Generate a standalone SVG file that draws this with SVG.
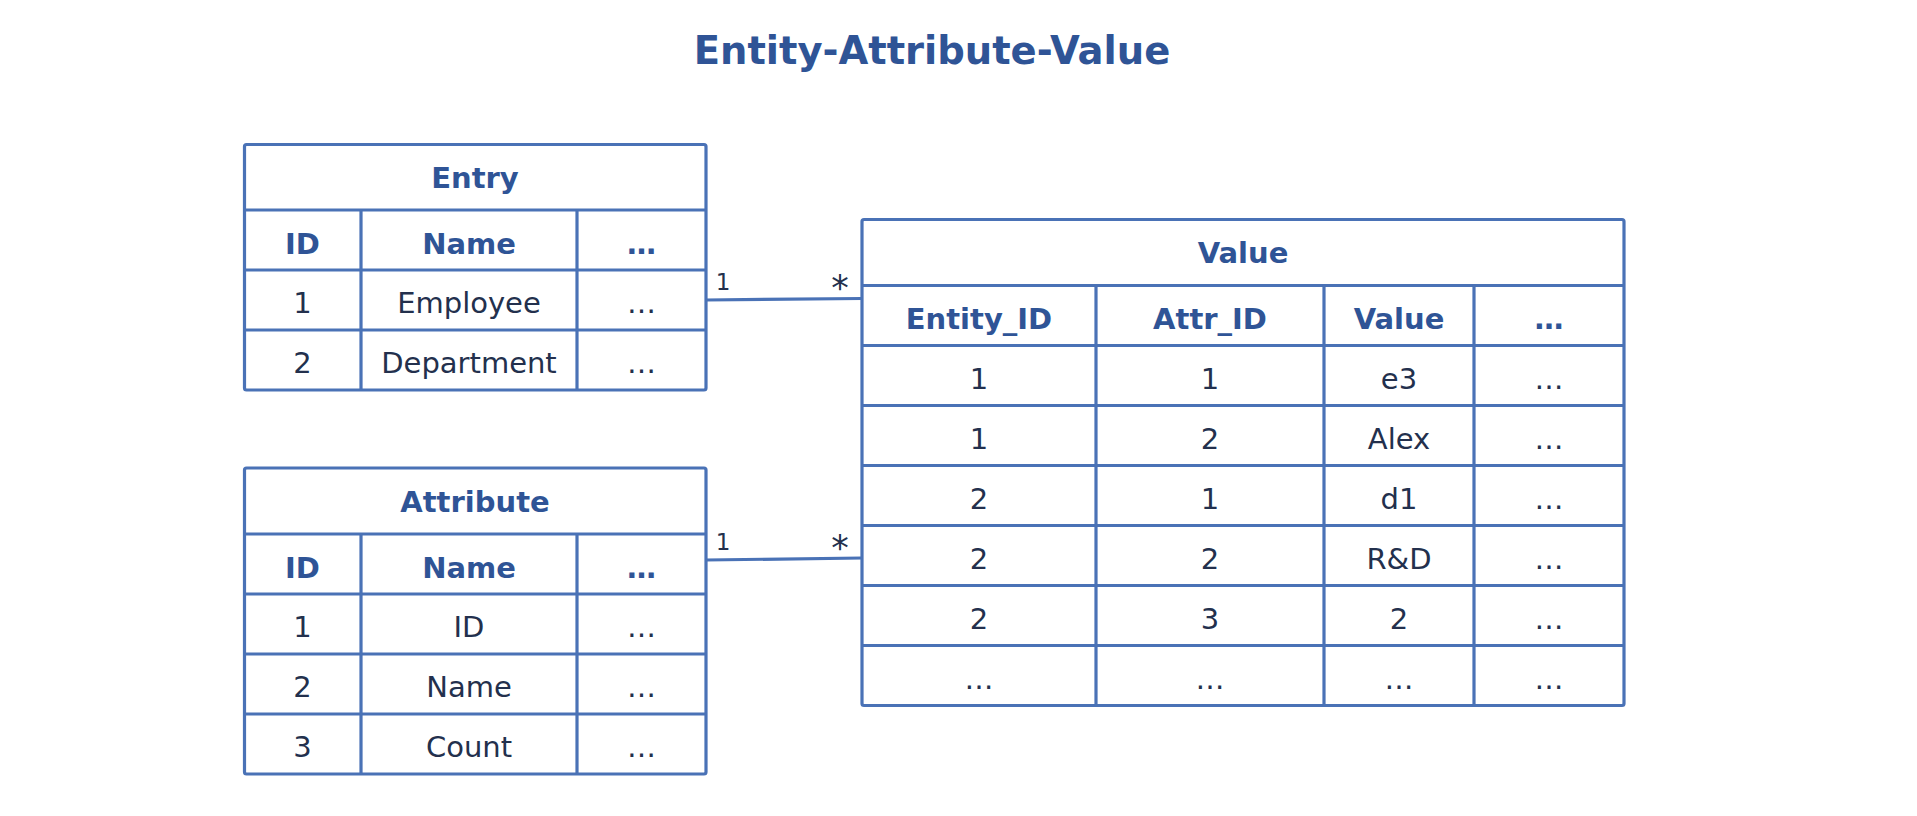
<svg xmlns="http://www.w3.org/2000/svg" width="1917" height="816" viewBox="0 0 1917 816">
<style>
  .ln { stroke: #4A72B6; stroke-width: 3.2; fill: none; }
  .box { stroke: #4A72B6; stroke-width: 3.2; fill: #ffffff; }
  .ttl { font-family: "DejaVu Sans", Verdana, sans-serif; font-weight: bold; font-size: 38.5px; fill: #2F5496; text-anchor: middle; }
  .hd { font-family: "DejaVu Sans", Verdana, sans-serif; font-weight: bold; font-size: 29px; fill: #2F5496; text-anchor: middle; }
  .tx { font-family: "DejaVu Sans", Verdana, sans-serif; font-size: 29px; fill: #23304D; text-anchor: middle; }
  .lbl { font-family: "DejaVu Sans", Verdana, sans-serif; font-size: 23px; fill: #23304D; text-anchor: middle; }
  .star { font-family: "DejaVu Sans", Verdana, sans-serif; font-size: 35px; fill: #23304D; text-anchor: middle; }
</style>
<rect x="0" y="0" width="1917" height="816" fill="#ffffff"/>
<text class="ttl" x="932" y="63.5">Entity-Attribute-Value</text>

<g id="connectors">
  <line class="ln" x1="706" y1="300" x2="862" y2="298.5"/>
  <text class="lbl" x="723" y="290">1</text>
  <text class="star" x="840" y="300">*</text>
  <line class="ln" x1="706" y1="560" x2="862" y2="558"/>
  <text class="lbl" x="723" y="549.5">1</text>
  <text class="star" x="840" y="560">*</text>
</g>

<g id="entry">
  <rect class="box" x="244.5" y="144.5" width="461.5" height="245.5" rx="2"/>
  <line class="ln" x1="244.5" y1="210" x2="706" y2="210"/>
  <line class="ln" x1="244.5" y1="270" x2="706" y2="270"/>
  <line class="ln" x1="244.5" y1="330" x2="706" y2="330"/>
  <line class="ln" x1="361" y1="210" x2="361" y2="390"/>
  <line class="ln" x1="577" y1="210" x2="577" y2="390"/>
  <text class="hd" x="475" y="188">Entry</text>
  <text class="hd" x="302.5" y="253.5">ID</text>
  <text class="hd" x="469" y="253.5">Name</text>
  <text class="hd" x="641.5" y="253.5">…</text>
  <text class="tx" x="302.5" y="313">1</text>
  <text class="tx" x="469" y="313">Employee</text>
  <text class="tx" x="641.5" y="313">…</text>
  <text class="tx" x="302.5" y="373">2</text>
  <text class="tx" x="469" y="373">Department</text>
  <text class="tx" x="641.5" y="373">…</text>
</g>

<g id="attribute">
  <rect class="box" x="244.5" y="468" width="461.5" height="306" rx="2"/>
  <line class="ln" x1="244.5" y1="534" x2="706" y2="534"/>
  <line class="ln" x1="244.5" y1="594" x2="706" y2="594"/>
  <line class="ln" x1="244.5" y1="654" x2="706" y2="654"/>
  <line class="ln" x1="244.5" y1="714" x2="706" y2="714"/>
  <line class="ln" x1="361" y1="534" x2="361" y2="774"/>
  <line class="ln" x1="577" y1="534" x2="577" y2="774"/>
  <text class="hd" x="475" y="511.5">Attribute</text>
  <text class="hd" x="302.5" y="577.5">ID</text>
  <text class="hd" x="469" y="577.5">Name</text>
  <text class="hd" x="641.5" y="577.5">…</text>
  <text class="tx" x="302.5" y="637">1</text>
  <text class="tx" x="469" y="637">ID</text>
  <text class="tx" x="641.5" y="637">…</text>
  <text class="tx" x="302.5" y="697">2</text>
  <text class="tx" x="469" y="697">Name</text>
  <text class="tx" x="641.5" y="697">…</text>
  <text class="tx" x="302.5" y="757">3</text>
  <text class="tx" x="469" y="757">Count</text>
  <text class="tx" x="641.5" y="757">…</text>
</g>

<g id="value">
  <rect class="box" x="862" y="219.5" width="762" height="486" rx="2"/>
  <line class="ln" x1="862" y1="285.5" x2="1624" y2="285.5"/>
  <line class="ln" x1="862" y1="345.5" x2="1624" y2="345.5"/>
  <line class="ln" x1="862" y1="405.5" x2="1624" y2="405.5"/>
  <line class="ln" x1="862" y1="465.5" x2="1624" y2="465.5"/>
  <line class="ln" x1="862" y1="525.5" x2="1624" y2="525.5"/>
  <line class="ln" x1="862" y1="585.5" x2="1624" y2="585.5"/>
  <line class="ln" x1="862" y1="645.5" x2="1624" y2="645.5"/>
  <line class="ln" x1="1096" y1="285.5" x2="1096" y2="705.5"/>
  <line class="ln" x1="1324" y1="285.5" x2="1324" y2="705.5"/>
  <line class="ln" x1="1474" y1="285.5" x2="1474" y2="705.5"/>
  <text class="hd" x="1243" y="263">Value</text>
  <text class="hd" x="979" y="328.5">Entity_ID</text>
  <text class="hd" x="1210" y="328.5">Attr_ID</text>
  <text class="hd" x="1399" y="328.5">Value</text>
  <text class="hd" x="1549" y="328.5">…</text>
  <text class="tx" x="979" y="388.5">1</text>
  <text class="tx" x="1210" y="388.5">1</text>
  <text class="tx" x="1399" y="388.5">e3</text>
  <text class="tx" x="1549" y="388.5">…</text>
  <text class="tx" x="979" y="448.5">1</text>
  <text class="tx" x="1210" y="448.5">2</text>
  <text class="tx" x="1399" y="448.5">Alex</text>
  <text class="tx" x="1549" y="448.5">…</text>
  <text class="tx" x="979" y="508.5">2</text>
  <text class="tx" x="1210" y="508.5">1</text>
  <text class="tx" x="1399" y="508.5">d1</text>
  <text class="tx" x="1549" y="508.5">…</text>
  <text class="tx" x="979" y="568.5">2</text>
  <text class="tx" x="1210" y="568.5">2</text>
  <text class="tx" x="1399" y="568.5">R&amp;D</text>
  <text class="tx" x="1549" y="568.5">…</text>
  <text class="tx" x="979" y="628.5">2</text>
  <text class="tx" x="1210" y="628.5">3</text>
  <text class="tx" x="1399" y="628.5">2</text>
  <text class="tx" x="1549" y="628.5">…</text>
  <text class="tx" x="979" y="688.5">…</text>
  <text class="tx" x="1210" y="688.5">…</text>
  <text class="tx" x="1399" y="688.5">…</text>
  <text class="tx" x="1549" y="688.5">…</text>
</g>
</svg>
